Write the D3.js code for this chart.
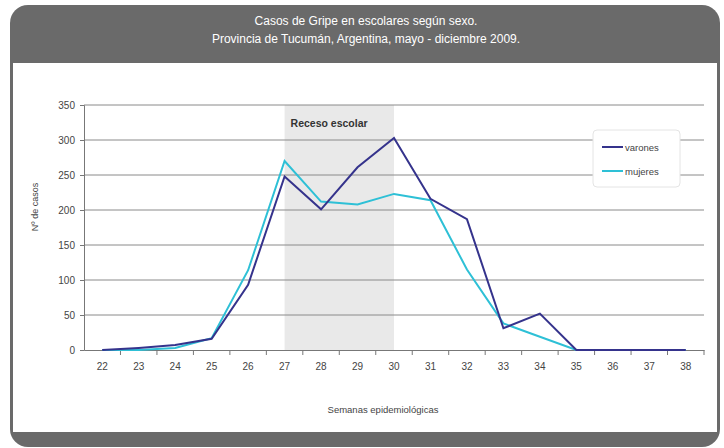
<!DOCTYPE html>
<html>
<head>
<meta charset="utf-8">
<script src="https://cdn.jsdelivr.net/npm/d3@7"></script>
<style>
  body { margin: 0; background: #fff; }
  text { font-family: "Liberation Sans", Arial, sans-serif; }
</style>
</head>
<body>
<div id="chart"></div>
<script>
// weeks and cases
const semanas = [22, 23, 24, 25, 26, 27, 28, 29, 30, 31, 32, 33, 34, 35, 36, 37, 38];
const varones = [0, 3, 7, 16, 93, 248, 201, 261, 303, 216, 187, 31, 52, 0, 0, 0, 0];
const mujeres = [0, 0, 3, 17, 114, 270, 212, 208, 223, 214, 115, 38, 19, 0, 0, 0, 0];
const yTicks = [0, 50, 100, 150, 200, 250, 300, 350];
const receso = [27, 30];
const titulo = ['Casos de Gripe en escolares según sexo.', 'Provincia de Tucumán, Argentina, mayo - diciembre 2009.'];

const width = 724, height = 448;
const margin = {top: 105, right: 20, bottom: 98, left: 84};
const cw = 704 - margin.left;
const ch = 350 - margin.top;

const svg = d3.select('#chart').append('svg').attr('width', width).attr('height', height);

// frame
svg.append('rect').attr('x', 10).attr('y', 5).attr('width', 710).attr('height', 442)
  .attr('rx', 18).attr('fill', '#6a6a6a');
svg.append('rect').attr('x', 13).attr('y', 63).attr('width', 704).attr('height', 369)
  .attr('fill', '#fff');

svg.append('g').selectAll('text').data(titulo).join('text')
  .attr('x', 366).attr('y', (d, i) => 25 + i * 18)
  .attr('text-anchor', 'middle').attr('fill', '#fff').attr('font-size', 12)
  .text(d => d);

const g = svg.append('g').attr('transform', `translate(${margin.left}, ${margin.top})`);

const x = d3.scaleBand().domain(semanas).range([0, cw]);
const xc = d => x(d) + x.bandwidth() / 2;
const y = d3.scaleLinear().domain([0, 350]).range([ch, 0]);

// school recess shading
g.append('rect')
  .attr('x', xc(receso[0])).attr('width', xc(receso[1]) - xc(receso[0]))
  .attr('y', 0).attr('height', ch).attr('fill', '#e9e9e9');

// grid
g.append('g').selectAll('line').data(yTicks.filter(d => d > 0)).join('line')
  .attr('x1', 0).attr('x2', cw).attr('y1', d => y(d)).attr('y2', d => y(d))
  .attr('stroke', '#8a8a8a').attr('stroke-width', 1);

g.append('text').attr('x', xc(receso[0]) + 6).attr('y', 22)
  .attr('font-size', 10.5).attr('font-weight', 'bold').attr('fill', '#333')
  .text('Receso escolar');

// axes
const yAxis = g.append('g').call(d3.axisLeft(y).tickValues(yTicks).tickSize(4).tickPadding(5));
yAxis.select('.domain').attr('stroke', '#777');
yAxis.selectAll('.tick line').attr('stroke', '#777');
yAxis.selectAll('text').attr('font-size', 10).attr('fill', '#444');

const xAxis = g.append('g').attr('transform', `translate(0, ${ch})`)
  .call(d3.axisBottom(x).tickSize(0).tickPadding(13));
xAxis.select('.domain').attr('stroke', '#777');
xAxis.selectAll('text').attr('font-size', 10).attr('fill', '#444');
// ticks between categories
xAxis.append('g').selectAll('line').data(semanas).join('line')
  .attr('x1', d => x(d) + x.bandwidth()).attr('x2', d => x(d) + x.bandwidth())
  .attr('y1', 0).attr('y2', 5).attr('stroke', '#777');

const line = d3.line().x((d, i) => xc(semanas[i])).y(d => y(d));

g.append('path').datum(mujeres).attr('d', line)
  .attr('fill', 'none').attr('stroke', '#2ec0d6').attr('stroke-width', 2);
g.append('path').datum(varones).attr('d', line)
  .attr('fill', 'none').attr('stroke', '#35338c').attr('stroke-width', 2);

// axis titles
svg.append('text').attr('transform', 'translate(38, 207) rotate(-90)')
  .attr('text-anchor', 'middle').attr('font-size', 9).attr('fill', '#444')
  .text('Nº de casos');
svg.append('text').attr('x', 383).attr('y', 413)
  .attr('text-anchor', 'middle').attr('font-size', 9.5).attr('fill', '#444')
  .text('Semanas epidemiológicas');

// legend
const leg = svg.append('g').attr('transform', 'translate(593, 130)');
leg.append('rect').attr('width', 87).attr('height', 57).attr('rx', 4)
  .attr('fill', '#fff').attr('stroke', '#e4e4e4');
const items = [['varones', '#35338c'], ['mujeres', '#2ec0d6']];
leg.selectAll('g.item').data(items).join('g').attr('class', 'item')
  .attr('transform', (d, i) => `translate(9, ${17 + i * 24})`)
  .each(function(d) {
    const s = d3.select(this);
    s.append('line').attr('x1', 0).attr('x2', 21).attr('stroke', d[1]).attr('stroke-width', 2);
    s.append('text').attr('x', 23).attr('y', 3.5).attr('font-size', 9.5).attr('fill', '#444').text(d[0]);
  });
</script>
</body>
</html>
